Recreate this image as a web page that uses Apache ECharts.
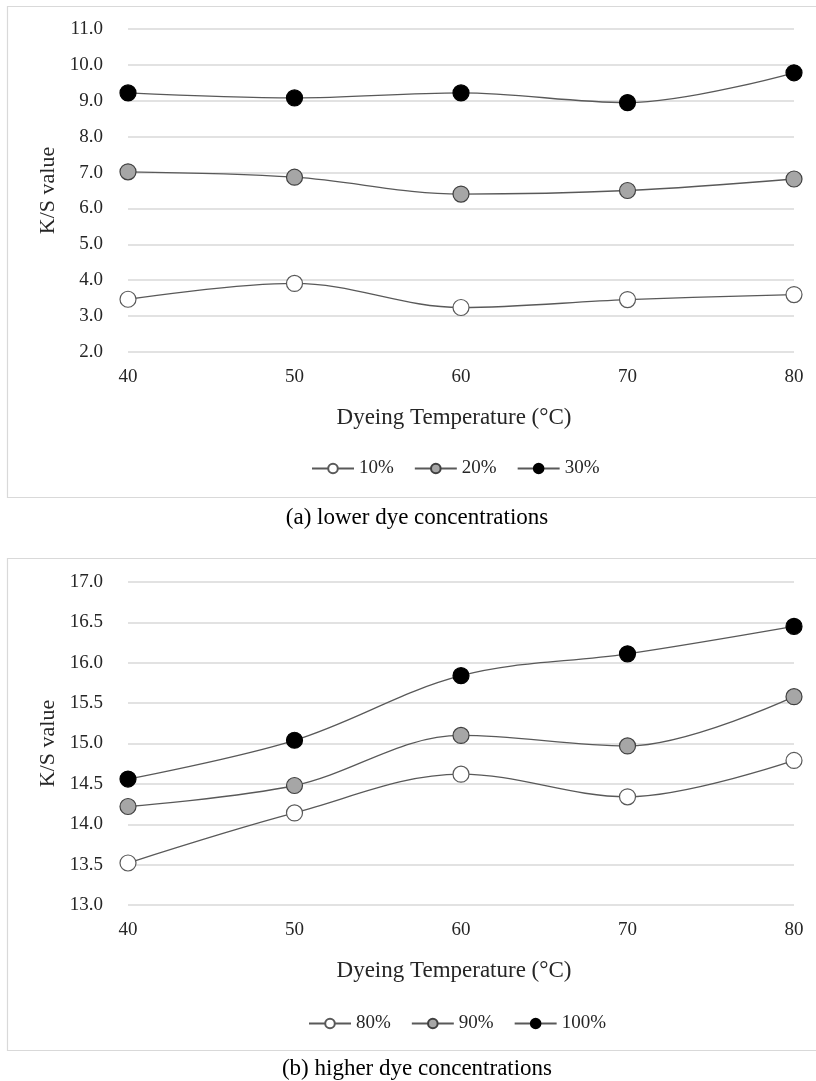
<!DOCTYPE html>
<html>
<head>
<meta charset="utf-8">
<script src="https://cdn.jsdelivr.net/npm/echarts@6/dist/echarts.min.js"></script>
<style>
html,body{margin:0;padding:0;background:#fff;}
#chart{width:816px;height:1081px;}
</style>
</head>
<body>
<div id="chart"></div>
<script>
// ---- data ----
const temperatures = [40, 50, 60, 70, 80];
const lowNames = ['10%', '20%', '30%'];
const low10 = [3.47, 3.91, 3.24, 3.46, 3.60];
const low20 = [7.02, 6.87, 6.40, 6.50, 6.82];
const low30 = [9.22, 9.08, 9.22, 8.95, 9.78];
const highNames = ['80%', '90%', '100%'];
const high80 = [13.52, 14.14, 14.62, 14.34, 14.79];
const high90 = [14.22, 14.48, 15.10, 14.97, 15.58];
const high100 = [14.56, 15.04, 15.84, 16.11, 16.45];
const xTitle = 'Dyeing Temperature (°C)';
const yTitle = 'K/S value';
const captionA = '(a) lower dye concentrations';
const captionB = '(b) higher dye concentrations';

const FONT = '"Liberation Serif", "Times New Roman", serif';
const LINE = '#595959';
const GRIDC = '#d9d9d9';
const fills = ['#ffffff', '#a6a6a6', '#000000'];
const borders = ['#595959', '#404040', '#000000'];

function pairs(vals) { return temperatures.map((t, i) => [t, vals[i]]); }

function makeSeries(names, arrays, idx) {
  return names.map((n, k) => ({
    name: n,
    type: 'line',
    xAxisIndex: idx,
    yAxisIndex: idx,
    data: pairs(arrays[k]),
    smooth: 0.35,
    symbol: 'circle',
    symbolSize: 16,
    lineStyle: { color: LINE, width: 1.3 },
    itemStyle: { color: fills[k], borderColor: borders[k], borderWidth: 1.2 },
    emphasis: { disabled: true },
    z: 3 + k
  }));
}

function xAxis(idx) {
  return {
    type: 'value', gridIndex: idx, min: 40, max: 80, interval: 10,
    axisLine: { show: false }, axisTick: { show: false }, splitLine: { show: false },
    axisLabel: { color: '#262626', fontFamily: FONT, fontSize: 19, margin: 16 },
    name: xTitle, nameLocation: 'middle', nameGap: 54,
    nameTextStyle: { color: '#262626', fontFamily: FONT, fontSize: 23, padding: [0, 14, 0, 0] }
  };
}
function yAxis(idx, min, max, interval) {
  return {
    type: 'value', gridIndex: idx, min: min, max: max, interval: interval,
    axisLine: { show: false }, axisTick: { show: false },
    splitLine: { show: true, lineStyle: { color: GRIDC, width: 1.6 } },
    axisLabel: { color: '#262626', fontFamily: FONT, fontSize: 19, margin: 25,
      formatter: v => v.toFixed(1) },
    name: yTitle, nameLocation: 'middle', nameGap: 67, nameRotate: 90,
    nameTextStyle: { color: '#262626', fontFamily: FONT, fontSize: 22 }
  };
}
function legend(names, top, left) {
  return {
    data: names, top: top, left: left, itemWidth: 42, itemHeight: 12, itemGap: 20,
    textStyle: { color: '#262626', fontFamily: FONT, fontSize: 19 },
    selectedMode: false
  };
}

const chart = echarts.init(document.getElementById('chart'), null, { renderer: 'canvas' });
chart.setOption({
  animation: false,
  backgroundColor: '#ffffff',
  grid: [
    { left: 128, right: 22, top: 29, bottom: 1081 - 352 },
    { left: 128, right: 22, top: 582, bottom: 1081 - 905 }
  ],
  xAxis: [xAxis(0), xAxis(1)],
  yAxis: [yAxis(0, 2, 11, 1), yAxis(1, 13, 17, 0.5)],
  legend: [legend(lowNames, 454, 306), legend(highNames, 1009, 303)],
  graphic: [
    { type: 'rect', shape: { x: 7.5, y: 6.5, width: 830, height: 491 }, style: { fill: null, stroke: GRIDC, lineWidth: 1.2 }, z: -1 },
    { type: 'rect', shape: { x: 7.5, y: 558.5, width: 830, height: 492 }, style: { fill: null, stroke: GRIDC, lineWidth: 1.2 }, z: -1 },
    { type: 'text', x: 417, y: 518, style: { text: captionA, fill: '#000', font: '23px ' + FONT, textAlign: 'center', textVerticalAlign: 'middle' } },
    { type: 'text', x: 417, y: 1069, style: { text: captionB, fill: '#000', font: '23px ' + FONT, textAlign: 'center', textVerticalAlign: 'middle' } }
  ],
  series: [
    ...makeSeries(lowNames, [low10, low20, low30], 0),
    ...makeSeries(highNames, [high80, high90, high100], 1)
  ]
});
</script>
</body>
</html>
